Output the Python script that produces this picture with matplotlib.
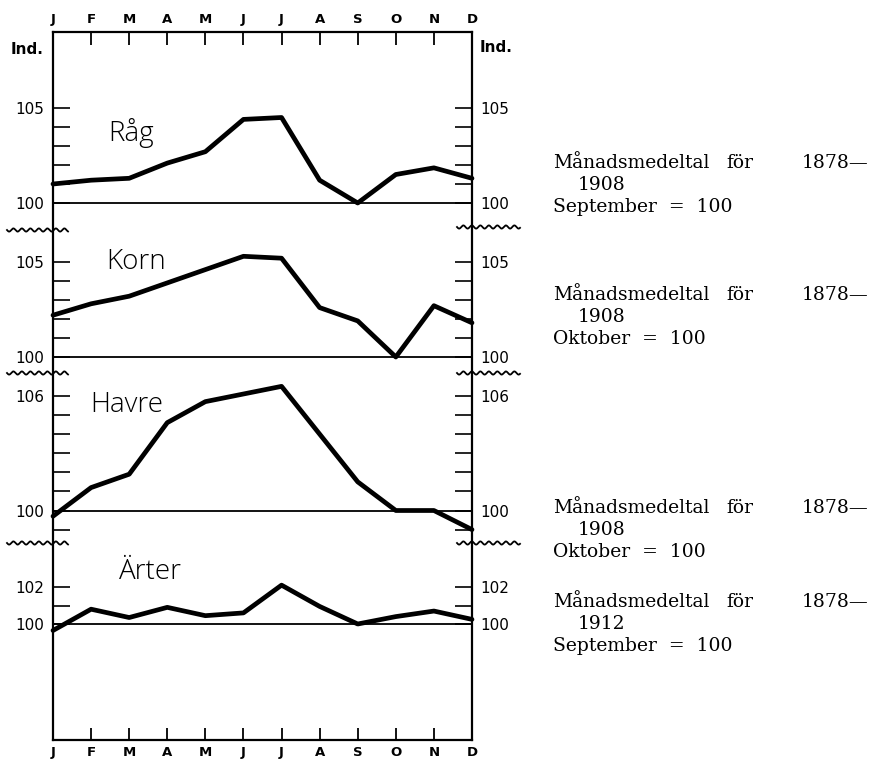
import numpy as np
import matplotlib.pyplot as plt

# monthly index values, base month = 100
months = ['J', 'F', 'M', 'A', 'M', 'J', 'J', 'A', 'S', 'O', 'N', 'D']
rag = [101.0, 101.2, 101.3, 102.1, 102.7, 104.4, 104.5, 101.2, 100.0, 101.5, 101.85, 101.3]
korn = [102.2, 102.8, 103.2, 103.9, 104.6, 105.3, 105.2, 102.6, 101.9, 100.0, 102.7, 101.8]
havre = [99.7, 101.2, 101.9, 104.6, 105.7, 106.1, 106.5, 104.0, 101.5, 100.0, 100.0, 99.0]
arter = [99.65, 100.8, 100.35, 100.9, 100.45, 100.6, 102.1, 100.95, 100.0, 100.4, 100.7, 100.25]

names = ['Råg', 'Korn', 'Havre', 'Ärter']
series = [rag, korn, havre, arter]
tick_values = [[100, 101, 102, 103, 104, 105],
               [100, 101, 102, 103, 104, 105],
               [99, 100, 101, 102, 103, 104, 105, 106],
               [100, 101, 102]]
tick_labelled = [[100, 105], [100, 105], [100, 106], [100, 102]]
notes = [('1908', 'September  =  100'),
         ('1908', 'Oktober  =  100'),
         ('1908', 'Oktober  =  100'),
         ('1912', 'September  =  100')]

W, H = 871, 760
fig = plt.figure(figsize=(W / 100, H / 100), dpi=100)
hand = 'DejaVu Sans'


def fig_box(x0, y0, x1, y1):
    # pixel box (top-left origin) -> figure fraction rect
    return [x0 / W, 1 - y1 / H, (x1 - x0) / W, (y1 - y0) / H]


LEFT, RIGHT, TOP, BOTTOM = 53, 472, 32, 740

# outer frame with month ticks top and bottom
frame = fig.add_axes(fig_box(LEFT, TOP, RIGHT, BOTTOM))
frame.set_xlim(0, 11)
frame.set_ylim(0, 1)
frame.set_yticks([])
frame.set_xticks(range(12))
frame.set_xticklabels(months, fontsize=9.5, fontweight='bold', family=hand)
frame.tick_params(axis='x', direction='in', length=9, width=1.3, top=True, labeltop=True, pad=4)
for s in frame.spines.values():
    s.set_linewidth(1.6)
frame.patch.set_alpha(0)

# panel geometry: top px, bottom px, px of the 100 line, px per index unit
panels = [(32, 225, 203, 19.0),
          (232, 370, 357, 19.0),
          (375, 543, 510.5, 19.1),
          (548, 740, 624, 18.5)]

for (top, bot, y100, scale), vals, ticks, lab in zip(panels, series, tick_values, tick_labelled):
    ax = fig.add_axes(fig_box(LEFT, top, RIGHT, bot))
    ax.patch.set_alpha(0)
    for s in ax.spines.values():
        s.set_visible(False)
    ax.set_xlim(0, 11)
    ax.set_ylim(100 - (bot - y100) / scale, 100 + (y100 - top) / scale)
    ax.set_xticks([])
    ax.set_yticks(ticks)
    ax.set_yticklabels([str(t) if t in lab else '' for t in ticks], fontsize=11, family=hand)
    ax.tick_params(axis='y', direction='in', length=12, width=1.2, left=True, right=True,
                   labelleft=True, labelright=True, pad=6)
    ax.axhline(100, color='black', lw=1.3)
    ax.plot(range(12), vals, color='black', lw=3.4, solid_joinstyle='round', solid_capstyle='round',
            clip_on=False)

# overlay in pixel coordinates for labels and break marks
ov = fig.add_axes([0, 0, 1, 1])
ov.set_xlim(0, W)
ov.set_ylim(H, 0)
ov.axis('off')
ov.patch.set_alpha(0)

ov.text(27, 50, 'Ind.', fontsize=11, fontweight='bold', family=hand, ha='center', va='center')
ov.text(480, 47, 'Ind.', fontsize=11, fontweight='bold', family=hand, ha='left', va='center')

name_pos = [(131, 133), (136, 262), (127, 405), (150, 572)]
for (x, y), name in zip(name_pos, names):
    ov.text(x, y, name, fontsize=20, family='Open Sans', fontweight='light', ha='center', va='center')

# wavy axis-break marks
for yl, yr in [(230, 227), (373, 373), (543, 543)]:
    xs = np.linspace(7, 68, 200)
    ov.plot(xs, yl + 1.6 * np.sin(2 * np.pi * (xs - 7) / 8.5), color='black', lw=1.3)
    xs = np.linspace(457, 520, 200)
    ov.plot(xs, yr + 1.6 * np.sin(2 * np.pi * (xs - 457) / 8.5), color='black', lw=1.3)

# notes on the right
note_top = [163, 295, 508, 602]
serif = 'DejaVu Serif'
fs = 13.5
for y, (yr, base) in zip(note_top, notes):
    ov.text(553, y, 'Månadsmedeltal', fontsize=fs, family=serif, ha='left', va='center')
    ov.text(726, y, 'för', fontsize=fs, family=serif, ha='left', va='center')
    ov.text(868, y, '1878—', fontsize=fs, family=serif, ha='right', va='center')
    ov.text(578, y + 22, yr, fontsize=fs, family=serif, ha='left', va='center')
    ov.text(553, y + 44, base, fontsize=fs, family=serif, ha='left', va='center')

fig.savefig('out.png', dpi=100)
